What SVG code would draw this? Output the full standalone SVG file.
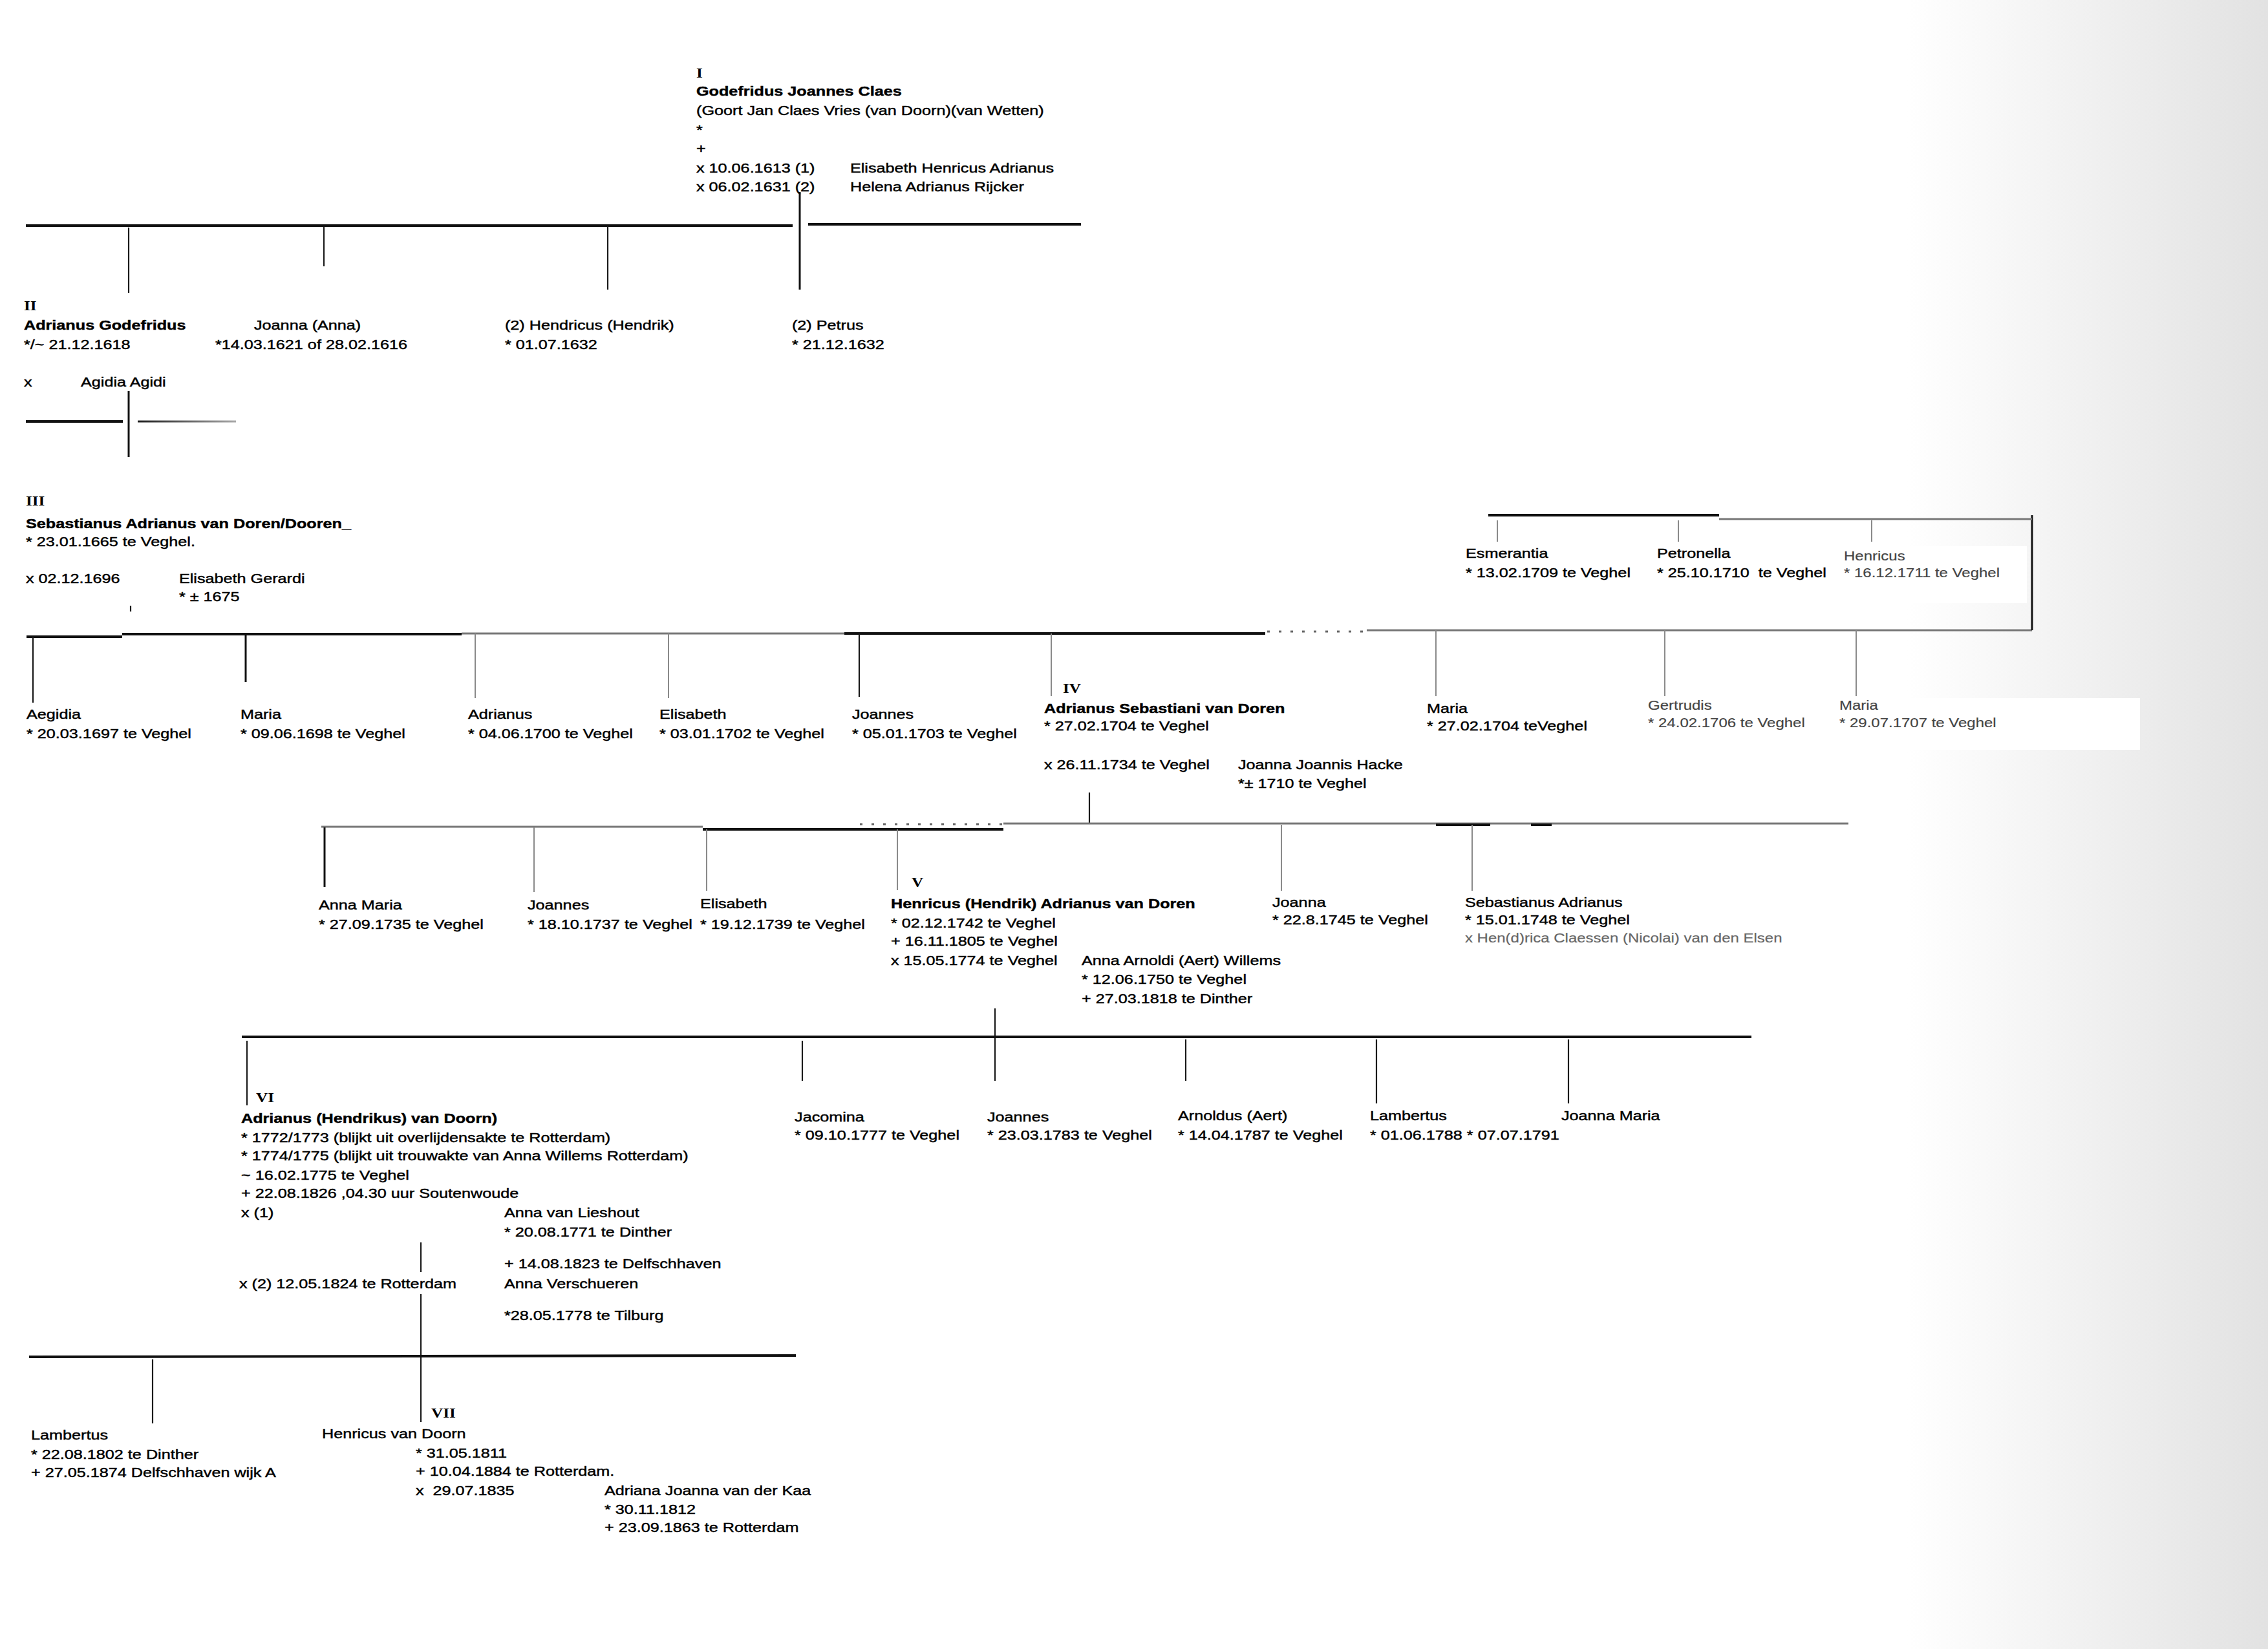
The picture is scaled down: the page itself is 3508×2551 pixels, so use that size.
<svg xmlns="http://www.w3.org/2000/svg" width="3508" height="2551" viewBox="0 0 3508 2551">
<style>
.t{font-family:"Liberation Sans",Arial,sans-serif;font-size:21px;fill:#000;stroke:#000;stroke-width:0.45}
.b{font-weight:bold}
.r{font-family:"Liberation Serif","Times New Roman",serif;font-weight:bold;font-size:21px;fill:#000}
.l{fill:#444;stroke:#444;stroke-width:0.2;font-size:20px}
.g{fill:#666;stroke:#666;stroke-width:0.2;font-size:20px}
.k4{stroke:#111;stroke-width:4;fill:none}
.k3{stroke:#111;stroke-width:3;fill:none}
.k2{stroke:#1a1a1a;stroke-width:2.2;fill:none}
.g2{stroke:#8a8a8a;stroke-width:2;fill:none}
.g3{stroke:#777;stroke-width:3;fill:none}
.dt{stroke:#666;stroke-width:3;stroke-dasharray:4 14;fill:none}
</style>
<defs>
<linearGradient id="shade" x1="0" y1="0" x2="1" y2="0">
<stop offset="0" stop-color="#ffffff"/>
<stop offset="1" stop-color="#e2e2e2"/>
</linearGradient>
<linearGradient id="fade" gradientUnits="userSpaceOnUse" x1="213" y1="0" x2="365" y2="0">
<stop offset="0" stop-color="#222"/>
<stop offset="1" stop-color="#aaa"/>
</linearGradient>
</defs>
<rect x="0" y="0" width="3508" height="2551" fill="#ffffff"/>
<rect x="2950" y="0" width="558" height="2551" fill="url(#shade)"/>
<rect x="2532" y="1080" width="778" height="80" fill="#ffffff"/>
<rect x="2850" y="845" width="285" height="88" fill="#ffffff"/>

<g id="connectors">
<line x1="40" y1="349" x2="1226" y2="349" class="k4"/>
<line x1="1250" y1="347" x2="1672" y2="347" class="k4"/>
<line x1="1237" y1="297" x2="1237" y2="448" class="k3"/>
<line x1="199" y1="352" x2="199" y2="453" class="k2"/>
<line x1="501" y1="351" x2="501" y2="412" class="k2"/>
<line x1="940" y1="350" x2="940" y2="448" class="k2"/>

<line x1="199" y1="605" x2="199" y2="707" class="k3"/>
<line x1="40" y1="652" x2="190" y2="652" class="k4"/>
<line x1="213" y1="652" x2="365" y2="652" stroke="url(#fade)" stroke-width="3"/>

<line x1="202" y1="937" x2="202" y2="946" class="k2"/>
<line x1="41" y1="985" x2="189" y2="985" class="k4"/>
<line x1="189" y1="981" x2="714" y2="981" class="k4"/>
<line x1="714" y1="980" x2="1306" y2="980" class="g3"/>
<line x1="1306" y1="980" x2="1957" y2="980" class="k4"/>
<line x1="1960" y1="977" x2="2114" y2="977" class="dt"/>
<line x1="2114" y1="975" x2="3143" y2="975" class="g3"/>
<line x1="3143" y1="797" x2="3143" y2="975" class="k3"/>
<line x1="2302" y1="797" x2="2659" y2="797" class="k4"/>
<line x1="2659" y1="803" x2="3143" y2="803" class="g3"/>
<line x1="2316" y1="805" x2="2316" y2="838" class="g2"/>
<line x1="2596" y1="805" x2="2596" y2="838" class="g2"/>
<line x1="2895" y1="805" x2="2895" y2="838" class="g2"/>
<line x1="51" y1="985" x2="51" y2="1087" class="k2"/>
<line x1="380" y1="981" x2="380" y2="1055" class="k3"/>
<line x1="735" y1="980" x2="735" y2="1080" class="g2"/>
<line x1="1034" y1="980" x2="1034" y2="1080" class="g2"/>
<line x1="1329" y1="980" x2="1329" y2="1078" class="k2"/>
<line x1="1626" y1="980" x2="1626" y2="1077" class="g2"/>
<line x1="2221" y1="975" x2="2221" y2="1077" class="g2"/>
<line x1="2575" y1="975" x2="2575" y2="1077" class="g2"/>
<line x1="2871" y1="975" x2="2871" y2="1077" class="g2"/>

<line x1="1685" y1="1226" x2="1685" y2="1275" class="k2"/>
<line x1="497" y1="1279" x2="1087" y2="1279" class="g3"/>
<line x1="1087" y1="1283" x2="1552" y2="1283" class="k4"/>
<line x1="1330" y1="1275" x2="1552" y2="1275" class="dt"/>
<line x1="1552" y1="1274" x2="2859" y2="1274" class="g3"/>
<line x1="2221" y1="1276" x2="2305" y2="1276" class="k4"/>
<line x1="2368" y1="1276" x2="2400" y2="1276" class="k4"/>
<line x1="502" y1="1280" x2="502" y2="1372" class="k3"/>
<line x1="826" y1="1280" x2="826" y2="1380" class="g2"/>
<line x1="1093" y1="1283" x2="1093" y2="1378" class="g2"/>
<line x1="1388" y1="1283" x2="1388" y2="1377" class="g2"/>
<line x1="1982" y1="1276" x2="1982" y2="1378" class="g2"/>
<line x1="2277" y1="1276" x2="2277" y2="1378" class="g2"/>

<line x1="1539" y1="1560" x2="1539" y2="1672" class="k2"/>
<line x1="374" y1="1604" x2="2709" y2="1604" class="k4"/>
<line x1="382" y1="1610" x2="382" y2="1710" class="k2"/>
<line x1="1241" y1="1610" x2="1241" y2="1672" class="k2"/>
<line x1="1834" y1="1608" x2="1834" y2="1672" class="k2"/>
<line x1="2129" y1="1608" x2="2129" y2="1707" class="k2"/>
<line x1="2426" y1="1608" x2="2426" y2="1707" class="k2"/>

<line x1="651" y1="1922" x2="651" y2="1968" class="k2"/>
<line x1="651" y1="2002" x2="651" y2="2200" class="k2"/>
<line x1="45" y1="2099" x2="1231" y2="2097" class="k4"/>
<line x1="236" y1="2103" x2="236" y2="2202" class="k2"/>
</g>

<g transform="scale(1.2,1)">
<g id="gen1-godefridus">
<text class="r" x="897.5" y="120">I</text>
<text class="t b" x="897.5" y="148">Godefridus Joannes Claes</text>
<text class="t" x="897.5" y="178">(Goort Jan Claes Vries (van Doorn)(van Wetten)</text>
<text class="t" x="897.5" y="208">*</text>
<text class="t" x="897.5" y="237">+</text>
<text class="t" x="897.5" y="267">x 10.06.1613 (1)</text>
<text class="t" x="1095.8" y="267">Elisabeth Henricus Adrianus</text>
<text class="t" x="897.5" y="296">x 06.02.1631 (2)</text>
<text class="t" x="1095.8" y="296">Helena Adrianus Rijcker</text>
</g>

<g id="gen2-adrianus">
<text class="r" x="30.8" y="480">II</text>
<text class="t b" x="30.8" y="510">Adrianus Godefridus</text>
<text class="t" x="30.8" y="540">*/~ 21.12.1618</text>
<text class="t" x="30.8" y="598">x</text>
<text class="t" x="104.2" y="598">Agidia Agidi</text>
</g>
<g id="gen2-joanna">
<text class="t" x="327.5" y="510">Joanna (Anna)</text>
<text class="t" x="277.5" y="540">*14.03.1621 of 28.02.1616</text>
</g>
<g id="gen2-hendricus">
<text class="t" x="650.8" y="510">(2) Hendricus (Hendrik)</text>
<text class="t" x="650.8" y="540">* 01.07.1632</text>
</g>
<g id="gen2-petrus">
<text class="t" x="1020.8" y="510">(2) Petrus</text>
<text class="t" x="1020.8" y="540">* 21.12.1632</text>
</g>

<g id="gen3-sebastianus">
<text class="r" x="33.3" y="782">III</text>
<text class="t b" x="33.3" y="817">Sebastianus Adrianus van Doren/Dooren_</text>
<text class="t" x="33.3" y="845">* 23.01.1665 te Veghel.</text>
<text class="t" x="33.3" y="902">x 02.12.1696</text>
<text class="t" x="230.8" y="902">Elisabeth Gerardi</text>
<text class="t" x="230.8" y="930">* ± 1675</text>
</g>

<g id="gen3-aegidia"><text class="t" x="34.2" y="1112">Aegidia</text><text class="t" x="34.2" y="1142">* 20.03.1697 te Veghel</text></g>
<g id="gen3-maria1"><text class="t" x="310" y="1112">Maria</text><text class="t" x="310" y="1142">* 09.06.1698 te Veghel</text></g>
<g id="gen3-adrianus"><text class="t" x="603.3" y="1112">Adrianus</text><text class="t" x="603.3" y="1142">* 04.06.1700 te Veghel</text></g>
<g id="gen3-elisabeth"><text class="t" x="850" y="1112">Elisabeth</text><text class="t" x="850" y="1142">* 03.01.1702 te Veghel</text></g>
<g id="gen3-joannes"><text class="t" x="1098.3" y="1112">Joannes</text><text class="t" x="1098.3" y="1142">* 05.01.1703 te Veghel</text></g>
<g id="gen4-adrianus-sebastiani">
<text class="r" x="1370" y="1072">IV</text>
<text class="t b" x="1345.8" y="1103">Adrianus Sebastiani van Doren</text>
<text class="t" x="1345.8" y="1130">* 27.02.1704 te Veghel</text>
<text class="t" x="1345.8" y="1190">x 26.11.1734 te Veghel</text>
<text class="t" x="1595.8" y="1190">Joanna Joannis Hacke</text>
<text class="t" x="1595.8" y="1219">*± 1710 te Veghel</text>
</g>
<g id="gen3-maria2"><text class="t" x="1839.2" y="1103">Maria</text><text class="t" x="1839.2" y="1130">* 27.02.1704 teVeghel</text></g>
<g id="gen3-gertrudis"><text class="t l" x="2124.2" y="1098">Gertrudis</text><text class="t l" x="2124.2" y="1125">* 24.02.1706 te Veghel</text></g>
<g id="gen3-maria3"><text class="t l" x="2370.8" y="1098">Maria</text><text class="t l" x="2370.8" y="1125">* 29.07.1707 te Veghel</text></g>
<g id="gen3-esmerantia"><text class="t" x="1889.2" y="863">Esmerantia</text><text class="t" x="1889.2" y="893">* 13.02.1709 te Veghel</text></g>
<g id="gen3-petronella"><text class="t" x="2135.8" y="863">Petronella</text><text class="t" x="2135.8" y="893" xml:space="preserve">* 25.10.1710  te Veghel</text></g>
<g id="gen3-henricus"><text class="t l" x="2376.7" y="867">Henricus</text><text class="t l" x="2376.7" y="893">* 16.12.1711 te Veghel</text></g>

<g id="gen4-anna-maria"><text class="t" x="410.8" y="1407">Anna Maria</text><text class="t" x="410.8" y="1437">* 27.09.1735 te Veghel</text></g>
<g id="gen4-joannes"><text class="t" x="680" y="1407">Joannes</text><text class="t" x="680" y="1437">* 18.10.1737 te Veghel</text></g>
<g id="gen4-elisabeth"><text class="t" x="902.5" y="1405">Elisabeth</text><text class="t" x="902.5" y="1437">* 19.12.1739 te Veghel</text></g>
<g id="gen5-henricus">
<text class="r" x="1175" y="1372">V</text>
<text class="t b" x="1148.3" y="1405">Henricus (Hendrik) Adrianus van Doren</text>
<text class="t" x="1148.3" y="1435">* 02.12.1742 te Veghel</text>
<text class="t" x="1148.3" y="1463">+ 16.11.1805 te Veghel</text>
<text class="t" x="1148.3" y="1493">x 15.05.1774 te Veghel</text>
<text class="t" x="1394.2" y="1493">Anna Arnoldi (Aert) Willems</text>
<text class="t" x="1394.2" y="1522">* 12.06.1750 te Veghel</text>
<text class="t" x="1394.2" y="1552">+ 27.03.1818 te Dinther</text>
</g>
<g id="gen4-joanna"><text class="t" x="1640" y="1403">Joanna</text><text class="t" x="1640" y="1430">* 22.8.1745 te Veghel</text></g>
<g id="gen4-sebastianus"><text class="t" x="1888.3" y="1403">Sebastianus Adrianus</text><text class="t" x="1888.3" y="1430">* 15.01.1748 te Veghel</text><text class="t g" x="1888.3" y="1458">x Hen(d)rica Claessen (Nicolai) van den Elsen</text></g>

<g id="gen6-adrianus">
<text class="r" x="330" y="1705">VI</text>
<text class="t b" x="310.8" y="1737">Adrianus (Hendrikus) van Doorn)</text>
<text class="t" x="310.8" y="1767">* 1772/1773 (blijkt uit overlijdensakte te Rotterdam)</text>
<text class="t" x="310.8" y="1795">* 1774/1775 (blijkt uit trouwakte van Anna Willems Rotterdam)</text>
<text class="t" x="310.8" y="1825">~ 16.02.1775 te Veghel</text>
<text class="t" x="310.8" y="1853">+ 22.08.1826 ,04.30 uur Soutenwoude</text>
<text class="t" x="310.8" y="1883">x (1)</text>
<text class="t" x="650" y="1883">Anna van Lieshout</text>
<text class="t" x="650" y="1913">* 20.08.1771 te Dinther</text>
<text class="t" x="650" y="1962">+ 14.08.1823 te Delfschhaven</text>
<text class="t" x="308.3" y="1993">x (2) 12.05.1824 te Rotterdam</text>
<text class="t" x="650" y="1993">Anna Verschueren</text>
<text class="t" x="650" y="2042">*28.05.1778 te Tilburg</text>
</g>
<g id="gen5-jacomina"><text class="t" x="1024.2" y="1735">Jacomina</text><text class="t" x="1024.2" y="1763">* 09.10.1777 te Veghel</text></g>
<g id="gen5-joannes"><text class="t" x="1272.5" y="1735">Joannes</text><text class="t" x="1272.5" y="1763">* 23.03.1783 te Veghel</text></g>
<g id="gen5-arnoldus"><text class="t" x="1518.3" y="1733">Arnoldus (Aert)</text><text class="t" x="1518.3" y="1763">* 14.04.1787 te Veghel</text></g>
<g id="gen5-lambertus"><text class="t" x="1765.8" y="1733">Lambertus</text><text class="t" x="1765.8" y="1763">* 01.06.1788 * 07.07.1791</text></g>
<g id="gen5-joanna-maria"><text class="t" x="2012.5" y="1733">Joanna Maria</text></g>

<g id="gen6-lambertus"><text class="t" x="40" y="2227">Lambertus</text><text class="t" x="40" y="2257">* 22.08.1802 te Dinther</text><text class="t" x="40" y="2285">+ 27.05.1874 Delfschhaven wijk A</text></g>
<g id="gen7-henricus">
<text class="r" x="555.8" y="2193">VII</text>
<text class="t" x="415" y="2225">Henricus van Doorn</text>
<text class="t" x="535.8" y="2255">* 31.05.1811</text>
<text class="t" x="535.8" y="2283">+ 10.04.1884 te Rotterdam.</text>
<text class="t" x="535.8" y="2313" xml:space="preserve">x  29.07.1835</text>
<text class="t" x="779.2" y="2313">Adriana Joanna van der Kaa</text>
<text class="t" x="779.2" y="2342">* 30.11.1812</text>
<text class="t" x="779.2" y="2370">+ 23.09.1863 te Rotterdam</text>
</g>
</g>
</svg>
